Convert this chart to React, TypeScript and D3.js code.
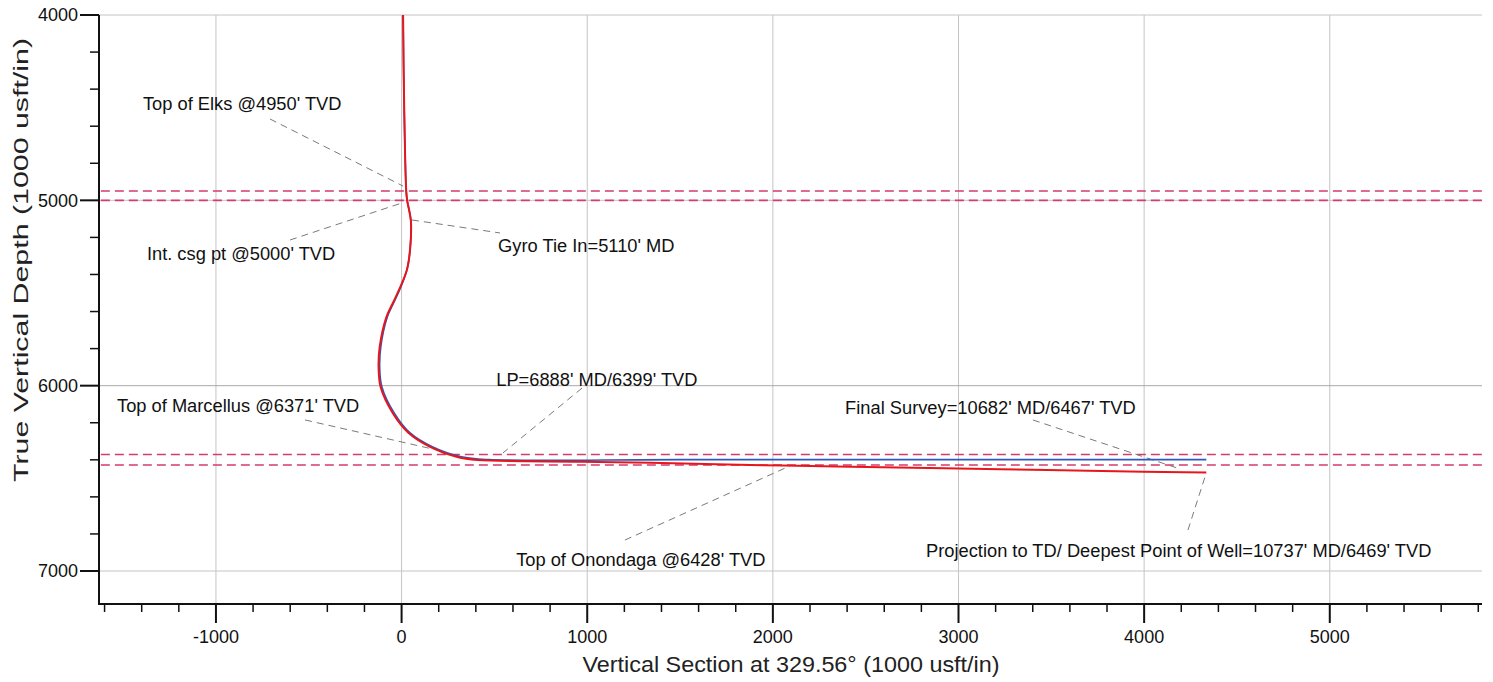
import React from 'react';
import * as d3 from 'd3';

// well path, actual (red) - vertical section ft / TVD ft
const actualVS = [8, 14, 25, 30, 50, 47, 30, -8, -45, -82, -118, -124, -113, -48, 38, 156, 300, 410, 964, 1341, 1880, 2419, 3226, 3996, 4335];
const actualTVD = [4000, 4500, 4950, 5000, 5110, 5250, 5370, 5470, 5550, 5630, 5791, 5900, 6007, 6147, 6255, 6331, 6385, 6401, 6410, 6416, 6428, 6437, 6451, 6464, 6469];

// plan (blue)
const planVS = [8, 14, 25, 30, 50, 47, 30, -5, -41, -77, -112, -118, -106, -40, 46, 168, 322, 470, 1500, 3000, 4335];
const planTVD = [4000, 4500, 4950, 5000, 5110, 5250, 5370, 5470, 5550, 5630, 5791, 5900, 6007, 6147, 6255, 6331, 6384, 6399, 6399, 6399, 6399];

// formation tops / casing point (TVD)
const formationTVD = [4950, 5000, 6371, 6428];

const xMajorTicks = [-1000, 0, 1000, 2000, 3000, 4000, 5000];
const yMajorTicks = [4000, 5000, 6000, 7000];

const labels = [
  "Top of Elks @4950' TVD",
  "Int. csg pt @5000' TVD",
  "Gyro Tie In=5110' MD",
  "LP=6888' MD/6399' TVD",
  "Top of Marcellus @6371' TVD",
  "Final Survey=10682' MD/6467' TVD",
  "Top of Onondaga @6428' TVD",
  "Projection to TD/ Deepest Point of Well=10737' MD/6469' TVD",
];
// label anchor in data units [vs, tvd], leader start & end [vs, tvd]
const labelAt = [[-1393, 4513], [-1372, 5322], [520, 5278], [510, 6003], [-1533, 6142], [2389, 6153], [617, 6973], [2825, 6924]];
const leaderFrom = [[-709, 4561], [-601, 5214], [56, 5106], [972, 6013], [-520, 6185], [3401, 6185], [1203, 6833], [4236, 6779]];
const leaderTo = [[8, 4923], [2, 5014], [530, 5176], [546, 6363], [190, 6347], [4177, 6444], [2092, 6433], [4333, 6476]];

const W = 1493;
const H = 682;
const x = d3.scaleLinear().domain([-1630, 5820]).range([99, 1482]);
const y = d3.scaleLinear().domain([4000, 7178]).range([15, 604]);

const line = d3
  .line<[number, number]>()
  .x(d => x(d[0]))
  .y(d => y(d[1]))
  .curve(d3.curveCatmullRom.alpha(0.5));

export default function App() {
  const actual = actualVS.map((v, i) => [v, actualTVD[i]] as [number, number]);
  const plan = planVS.map((v, i) => [v, planTVD[i]] as [number, number]);
  const xMinor = d3.range(-1600, 5801, 200).filter(t => t % 1000 !== 0);
  const yMinor = d3.range(4200, 7001, 200).filter(t => t % 1000 !== 0);
  const font = 'Liberation Sans, Arial, sans-serif';

  return (
    <svg width={W} height={H} style={{ position: 'absolute', left: 0, top: 0, background: '#fff' }} fontFamily={font}>
      {/* grid */}
      <g stroke="#c4c4c4" strokeWidth={1}>
        {xMajorTicks.map(t => (
          <line key={'gx' + t} x1={x(t)} x2={x(t)} y1={y(4000)} y2={y(7178)} />
        ))}
        {yMajorTicks.map(t => (
          <line key={'gy' + t} x1={x(-1630)} x2={x(5820)} y1={y(t)} y2={y(t)} stroke={t === 6000 ? '#aaa' : '#c4c4c4'} />
        ))}
      </g>

      {/* formation tops */}
      <g stroke="#d43c6e" strokeWidth={1.6} strokeDasharray="9,5">
        {formationTVD.map(t => (
          <line key={'f' + t} x1={x(-1620)} x2={x(5820)} y1={y(t)} y2={y(t)} />
        ))}
      </g>

      {/* leaders */}
      <g stroke="#7a7a7a" strokeWidth={1} strokeDasharray="7,5">
        {leaderFrom.map((p, i) => (
          <line key={'l' + i} x1={x(p[0])} y1={y(p[1])} x2={x(leaderTo[i][0])} y2={y(leaderTo[i][1])} />
        ))}
      </g>

      {/* well paths */}
      <path d={line(plan) || ''} fill="none" stroke="#2f56b8" strokeWidth={1.6} />
      <path d={line(actual) || ''} fill="none" stroke="#e8161b" strokeWidth={2} />

      {/* labels */}
      <g fontSize={18.3} fill="#111">
        {labels.map((s, i) => (
          <text key={'t' + i} x={x(labelAt[i][0])} y={y(labelAt[i][1])}>
            {s}
          </text>
        ))}
      </g>

      {/* axes */}
      <g stroke="#111">
        <line x1={x(-1630)} x2={x(-1630)} y1={y(4000)} y2={y(7178) + 1} strokeWidth={2} />
        <line x1={x(-1630) - 1} x2={x(5820)} y1={y(7178)} y2={y(7178)} strokeWidth={2} />
        {yMajorTicks.map(t => (
          <line key={'ym' + t} x1={x(-1630) - 19} x2={x(-1630)} y1={y(t)} y2={y(t)} strokeWidth={2} />
        ))}
        {yMinor.map(t => (
          <line key={'yn' + t} x1={x(-1630) - 9} x2={x(-1630)} y1={y(t)} y2={y(t)} strokeWidth={1.5} />
        ))}
        {xMajorTicks.map(t => (
          <line key={'xm' + t} x1={x(t)} x2={x(t)} y1={y(7178)} y2={y(7178) + 19} strokeWidth={2} />
        ))}
        {xMinor.map(t => (
          <line key={'xn' + t} x1={x(t)} x2={x(t)} y1={y(7178)} y2={y(7178) + 8} strokeWidth={1.5} />
        ))}
      </g>
      <g fontSize={18} fill="#111">
        {yMajorTicks.map(t => (
          <text key={'yl' + t} x={x(-1630) - 21} y={y(t)} dy="0.35em" textAnchor="end">
            {t}
          </text>
        ))}
        {xMajorTicks.map(t => (
          <text key={'xl' + t} x={x(t)} y={y(7178) + 39} textAnchor="middle">
            {t}
          </text>
        ))}
      </g>
      <text x={791} y={672} textAnchor="middle" fontSize={22} fill="#222" textLength={417} lengthAdjust="spacingAndGlyphs">
        Vertical Section at 329.56° (1000 usft/in)
      </text>
      <text transform="translate(28,260) rotate(-90)" textAnchor="middle" fontSize={21} fill="#222" textLength={444} lengthAdjust="spacingAndGlyphs">
        True Vertical Depth (1000 usft/in)
      </text>
    </svg>
  );
}
